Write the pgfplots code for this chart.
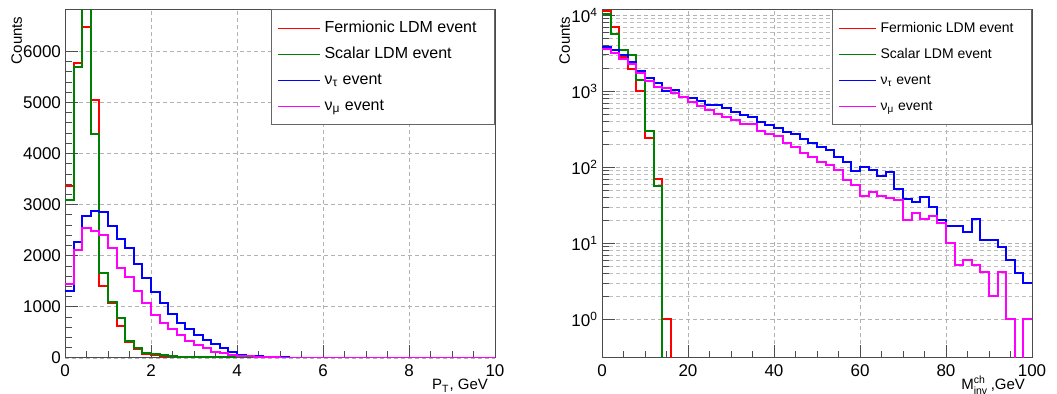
\documentclass[border=0pt]{standalone}
\usepackage{fontspec}
\setmainfont{Liberation Sans}
\usepackage{amsmath}
\usepackage{pgfplots}
\pgfplotsset{compat=1.18}
\definecolor{rootred}{RGB}{255,0,0}
\definecolor{rootgreen}{RGB}{0,128,0}
\definecolor{rootblue}{RGB}{0,0,255}
\definecolor{rootmag}{RGB}{255,0,255}
\pgfplotsset{
  rootstyle/.style={
    scale only axis, width=215pt, height=174.25pt,
    axis line style={black!70, line width=0.5pt},
    every tick/.style={black!70, line width=0.5pt},
    tick align=inside, tick pos=left,
    major tick length=6.5pt, minor tick length=3.5pt,
    grid style={black!30, line width=0.4pt, dash pattern=on 2pt off 1.5pt},
    minor grid style={black!25, line width=0.4pt, dash pattern=on 2pt off 1.5pt},
    xmajorgrids, ymajorgrids,
    tick label style={font=\fontsize{8.5}{10}\selectfont},
    yticklabel style={xshift=1.5pt},
    label style={font=\fontsize{7.5}{9}\selectfont},
    /pgf/number format/assume math mode=true,
    /pgf/number format/1000 sep={},
    xlabel style={at={(rel axis cs:1,0)}, anchor=base east, yshift=-16pt},
    legend cell align=left,
  },
  hist/.style={const plot mark left, no marks, line width=1pt},
}
\begin{document}
\begin{tikzpicture}
\useasboundingbox (0,0) rectangle (528.5pt,197pt);
% ---------------- left panel ----------------
\begin{axis}[rootstyle,
  at={(32.5pt,18pt)}, anchor=south west,
  xmin=0, xmax=10, ymin=0, ymax=6820,
  xtick={0,2,...,10}, minor x tick num=3,
  ytick={0,1000,...,6000}, minor y tick num=4,
  xlabel={P\textsubscript{T}, GeV},
  ylabel={Counts},
  ylabel style={at={(rel axis cs:-0.1,1)}, anchor=base east},
  legend style={at={(1,1)}, anchor=north east, draw=black!60, fill=white,
    font=\fontsize{8}{9.6}\selectfont, inner xsep=3pt, inner ysep=2.75pt, row sep=0pt,
    nodes={text height=7pt, text depth=2.5pt, inner ysep=1.75pt}},
  legend image code/.code={\draw[#1, line width=0.6pt] (0pt,0pt) -- (21pt,0pt);},
]
\addplot[hist, rootred] coordinates {(0,3360)(0.2,5770)(0.4,6470)(0.6,5040)(0.8,1406)(1.0,1080)(1.2,625)(1.4,318)(1.6,182)(1.8,85)(2.0,60)(2.2,40)(2.4,30)(2.6,22)(2.8,15)(3.0,10)(3.2,8)(3.4,6)(3.6,4)(3.8,3)(4.0,2)(4.2,1)(4.4,0)(10,0)};
\addlegendentry{Fermionic LDM event\hspace*{4pt}}
\addplot[hist, rootgreen] coordinates {(0,3100)(0.2,5700)(0.4,7000)(0.6,4390)(0.8,1666)(1.0,1094)(1.2,787)(1.4,332)(1.6,201)(1.8,104)(2.0,70)(2.2,50)(2.4,35)(2.6,25)(2.8,18)(3.0,12)(3.2,10)(3.4,15)(3.6,15)(3.8,10)(4.0,5)(4.2,2)(4.4,0)(10,0)};
\addlegendentry{Scalar LDM event}
\addplot[hist, rootblue] coordinates {(0,1310)(0.2,2270)(0.4,2770)(0.6,2880)(0.8,2850)(1.0,2590)(1.2,2330)(1.4,2150)(1.6,1830)(1.8,1570)(2.0,1295)(2.2,1080)(2.4,853)(2.6,690)(2.8,560)(3.0,450)(3.2,350)(3.4,283)(3.6,195)(3.8,125)(4.0,62)(4.2,45)(4.4,32)(4.6,22)(4.8,15)(5.0,10)(5.2,7)(5.4,5)(5.6,3)(5.8,2)(6.0,1)(6.2,0)(10,0)};
\addlegendentry{ν\textsubscript{τ} event}
\addplot[hist, rootmag] coordinates {(0,1440)(0.2,2120)(0.4,2545)(0.6,2480)(0.8,2400)(1.0,2150)(1.2,1765)(1.4,1580)(1.6,1310)(1.8,1080)(2.0,840)(2.2,690)(2.4,560)(2.6,443)(2.8,332)(3.0,250)(3.2,190)(3.4,125)(3.6,95)(3.8,65)(4.0,45)(4.2,30)(4.4,20)(4.6,14)(4.8,10)(5.0,7)(5.2,5)(5.4,3)(5.6,2)(5.8,1)(6.0,0)(10,0)};
\addlegendentry{ν\textsubscript{μ} event}
\end{axis}
% ---------------- right panel ----------------
\begin{axis}[rootstyle,
  at={(301pt,18pt)}, anchor=south west,
  ymode=log,
  xmin=0, xmax=100, ymin=0.31, ymax=11900,
  xtick={0,20,...,100}, minor x tick num=3,
  ytick={1,10,100,1000,10000},
  yticklabels={10\textsuperscript{0},10\textsuperscript{1},10\textsuperscript{2},10\textsuperscript{3},10\textsuperscript{4}},
  yminorgrids,
  xlabel={M$_{\text{inv}}^{\text{ch}}$\,,GeV},
  ylabel={Counts},
  ylabel style={at={(rel axis cs:-0.075,1)}, anchor=base east},
  legend style={at={(1,1)}, anchor=north east, draw=black!60, fill=white,
    font=\fontsize{7}{8.4}\selectfont, inner xsep=3pt, inner ysep=2.75pt, row sep=0pt,
    nodes={text height=7pt, text depth=2.5pt, inner ysep=1.75pt}},
  legend image code/.code={\draw[#1, line width=0.6pt] (0pt,0pt) -- (18.5pt,0pt);},
]
\addplot[hist, rootred] coordinates {(0,11200)(2,6980)(4,2820)(6,1990)(8,1010)(10,245)(12,70)(14,1)(16,0.001)(100,0.001)};
\addlegendentry{Fermionic LDM event\hspace*{4pt}}
\addplot[hist, rootgreen] coordinates {(0,10470)(2,5720)(4,3530)(6,3040)(8,1427)(10,300)(12,56)(14,0.001)(100,0.001)};
\addlegendentry{Scalar LDM event}
\addplot[hist, rootblue] coordinates {(0,3820)(2,3530)(4,3040)(6,2430)(8,1850)(10,1500)(12,1265)(14,1010)(16,1034)(18,845)(20,804)(22,748)(24,657)(26,657)(28,606)(30,537)(32,486)(34,462)(36,400)(38,359)(40,332)(42,294)(44,271)(46,236)(48,211)(50,183)(52,169)(54,138)(56,119)(58,90.6)(60,102)(62,92.5)(64,77.1)(66,87.9)(68,51.6)(70,38.1)(72,34.9)(74,40.1)(76,30.0)(78,20.0)(80,17.1)(82,17.1)(84,14.1)(86,21.1)(88,11.2)(90,11.2)(92,8.87)(94,6.11)(96,4.09)(98,3.02)(100,3.02)};
\addlegendentry{ν\textsubscript{τ} event}
\addplot[hist, rootmag] coordinates {(0,3640)(2,3220)(4,2630)(6,2310)(8,1740)(10,1370)(12,1140)(14,1088)(16,935)(18,845)(20,726)(22,638)(24,565)(26,497)(28,462)(30,418)(32,367)(34,367)(36,300)(38,270)(40,258)(42,207)(44,187)(46,153)(48,138)(50,117)(52,108)(54,92.5)(56,68.4)(58,58.8)(60,41.3)(62,46.6)(64,41.3)(66,39.3)(68,37.4)(70,20.0)(72,25.0)(74,21.1)(76,23.1)(78,18.5)(80,10.1)(82,5.15)(84,5.99)(86,5.15)(88,4.17)(90,2.02)(92,4.17)(94,1.0)(96,0.001)(98,1.0)(100,1.0)};
\addlegendentry{ν\textsubscript{μ} event}
\end{axis}
\end{tikzpicture}
\end{document}
